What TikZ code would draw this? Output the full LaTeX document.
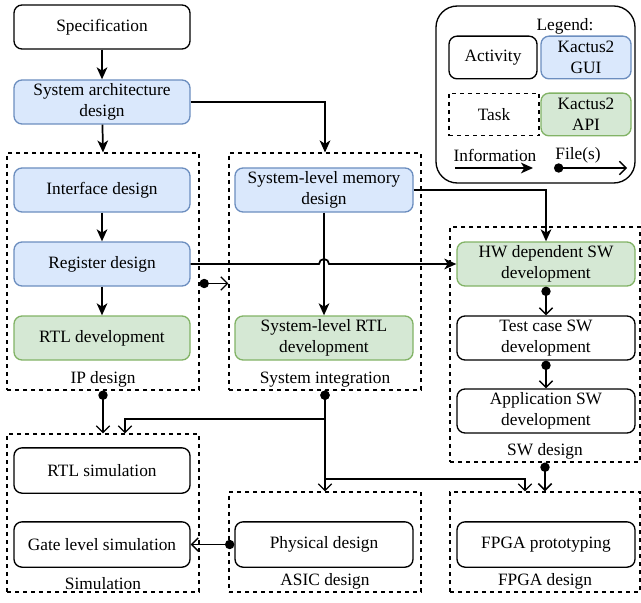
\documentclass[tikz,border=0pt]{standalone}
\usepackage{fontspec}
\setmainfont{Liberation Serif}
\usetikzlibrary{arrows.meta,calc}
\definecolor{guifill}{HTML}{DAE8FC}
\definecolor{guiline}{HTML}{6C8EBF}
\definecolor{apifill}{HTML}{D5E8D4}
\definecolor{apiline}{HTML}{82B366}
\tikzstyle{activity}=[
	rectangle,
	rounded corners=6pt,
	draw=black,
	line width=1pt,
	fill=white,
	minimum width=132pt,
	minimum height=33pt,
	align=center,
	inner sep=1pt
]
\tikzstyle{gui}=[activity, draw=guiline, fill=guifill]
\tikzstyle{api}=[activity, draw=apiline, fill=apifill]
\tikzstyle{task}=[
	rectangle,
	draw=black,
	dashed,
	line width=0.8pt
]
\tikzstyle{info}=[line width=1.3pt, -{Stealth[length=9pt,width=8pt,inset=2.5pt]}]
\tikzstyle{files}=[line width=1pt, {Circle[length=7pt]}-{Straight Barb[length=5pt,width=10pt]}]

\begin{document}
\begin{tikzpicture}[x=0.75pt,y=-0.75pt,font=\fontsize{13}{16}\selectfont]

\useasboundingbox (0,0) rectangle (641,602);

% Groups (tasks)
\node[task, minimum width=144pt, minimum height=177.75pt] (ipgrp) at (103,271.5){};
\node[task, minimum width=144pt, minimum height=177.75pt] (intgrp) at (325,271.5){};
\node[task, minimum width=142.5pt, minimum height=176.25pt] (swgrp) at (545,344.5){};
\node[task, minimum width=144pt, minimum height=118.5pt] (simgrp) at (103,513){};
\node[task, minimum width=144pt, minimum height=75pt] (asicgrp) at (325,542){};
\node[task, minimum width=142.5pt, minimum height=75pt] (fpgagrp) at (545,542){};

% Group labels
\node[above, inner sep=2pt] (iplbl) at (ipgrp.south){IP design};
\node[above, inner sep=2pt] (intlbl) at (intgrp.south){System integration};
\node[above, inner sep=2pt] (swlbl) at (swgrp.south){SW design};
\node[above, inner sep=2pt] (simlbl) at (simgrp.south){Simulation};
\node[above, inner sep=2pt] (asiclbl) at (asicgrp.south){ASIC design};
\node[above, inner sep=2pt] (fpgalbl) at (fpgagrp.south){FPGA design};

% Activities
\node[activity] (spec) at (102,27){Specification};
\node[gui] (sysarch) at (102,102){System architecture\\design};
\node[gui] (iface) at (102,190){Interface design};
\node[gui] (reg) at (102,264){Register design};
\node[api] (rtl) at (102,338){RTL development};
\node[gui, minimum width=133.5pt] (mem) at (324,190){System-level memory\\design};
\node[api, minimum width=133.5pt] (sysrtl) at (324,338){System-level RTL\\development};
\node[api, minimum width=133.5pt] (hwsw) at (546,264){HW dependent SW\\development};
\node[activity, minimum width=133.5pt] (testsw) at (546,338){Test case SW\\development};
\node[activity, minimum width=133.5pt] (appsw) at (546,411){Application SW\\development};
\node[activity, minimum height=34pt] (rtlsim) at (102,470.5){RTL simulation};
\node[activity, minimum height=34pt] (gatesim) at (102,544.5){Gate level simulation};
\node[activity, minimum width=133.5pt, minimum height=34pt] (phys) at (324,544.5){Physical design};
\node[activity, minimum width=133.5pt, minimum height=34pt] (fpga) at (546,544.5){FPGA prototyping};

% Information flow
\draw[info] (spec) -- (sysarch);
\draw[info] (sysarch) -- (ipgrp.north);
\draw[info] (sysarch.east) -| (intgrp.north);
\draw[info] (iface) -- (reg);
\draw[info] (reg) -- (rtl);
\draw[info] (mem) -- (sysrtl);
\draw[info] (mem.east) -| (hwsw.north);
\draw[info] (reg.east) -- (319,264) arc (180:360:5) -- (hwsw.west);

% File flow
\draw[files] ($(ipgrp.east)+(0,12)$) -- ($(intgrp.west)+(0,12)$);
\draw[files] (hwsw.south) -- (testsw.north);
\draw[files] (testsw.south) -- (appsw.north);
\draw[files] (ipgrp.south) -- (simgrp.north);
\coordinate (intmid) at (325,419);
\coordinate (intfork) at (325,479);
\draw[files] (intgrp.south) -- (intmid) -| ($(simgrp.north)+(22,0)$);
\draw[files] (intgrp.south) -- (asicgrp.north);
\draw[line width=1pt, -{Straight Barb[length=5pt,width=10pt]}] (intfork) -| ($(fpgagrp.north)+(-20,0)$);
\draw[files, line width=1.3pt] (swgrp.south) -- (fpgagrp.north);
\draw[files] (phys.west) -- (gatesim.east);

% Legend
\node[draw=black, line width=1pt, rounded corners=16pt, minimum width=149.25pt, minimum height=132.75pt] (legend) at (535.5,94.5){};
\node (leglbl) at (565,26){Legend:};
\node[activity, minimum width=66pt, minimum height=32pt] (legact) at (493,57.5){Activity};
\node[gui, minimum width=67.5pt, minimum height=32pt] (leggui) at (586,57.5){Kactus2\\GUI};
\node[task, minimum width=67.5pt, minimum height=32pt] (legtask) at (494,114.5){Task};
\node[api, minimum width=67.5pt, minimum height=32pt] (legapi) at (586,114.5){Kactus2\\API};
\node (leginfo) at (495,155){Information};
\node (legfile) at (578,155){File(s)};
\coordinate (infoA) at (455,168);
\coordinate (infoB) at (533,168);
\coordinate (fileA) at (554,168);
\coordinate (fileB) at (627,168);
\draw[info] (infoA) -- (infoB);
\draw[files] (fileA) -- (fileB);

\end{tikzpicture}
\end{document}
